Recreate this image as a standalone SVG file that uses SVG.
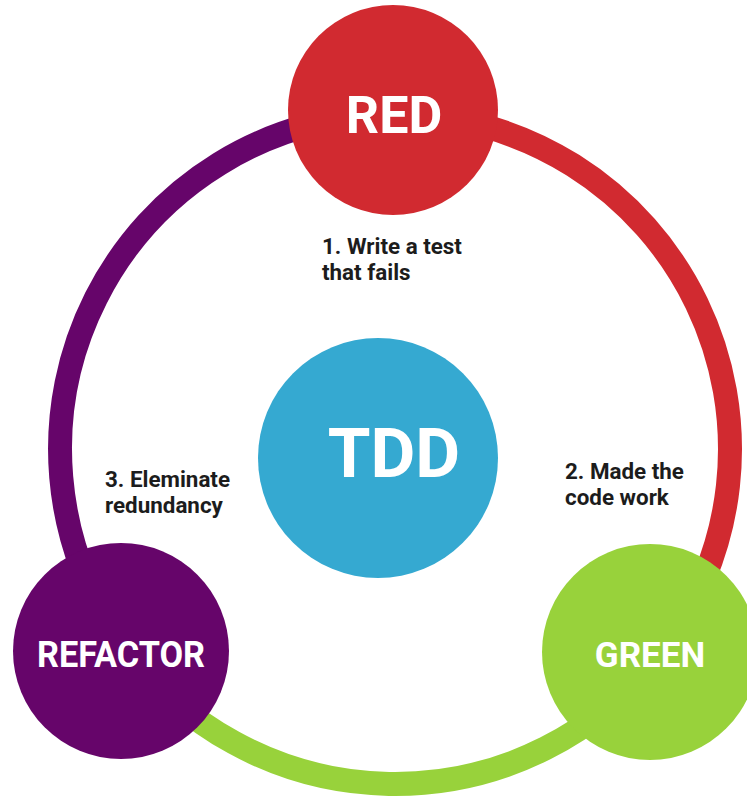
<svg xmlns="http://www.w3.org/2000/svg" width="747" height="799" viewBox="0 0 747 799">
  <style>
    .arc { fill: none; stroke-width: 24; }
    .title { font-family: Roboto, "Liberation Sans", sans-serif; font-weight: 700; fill: #ffffff; text-anchor: middle; }
    .step { font-family: Roboto, "Liberation Sans", sans-serif; font-weight: 700; font-size: 22.4px; fill: #1c1c1c; }
  </style>
  <rect width="747" height="799" fill="#ffffff"/>

  <!-- cycle ring, one arc per phase -->
  <g id="connectors">
    <path class="arc" stroke="#d12a30" d="M 395 114 A 335 335 0 0 1 657.2 657.5"/>
    <path class="arc" stroke="#98d23b" d="M 657.2 657.5 A 335 335 0 0 1 125.4 647.8"/>
    <path class="arc" stroke="#66056a" d="M 125.4 647.8 A 335 335 0 0 1 395 114"/>
  </g>

  <g id="tdd">
    <circle cx="378" cy="458" r="120" fill="#35a9d1"/>
    <text class="title" x="394" y="477" font-size="69">TDD</text>
  </g>

  <g id="red">
    <circle cx="393" cy="110" r="105" fill="#d12a30"/>
    <text class="title" x="394" y="133" font-size="52">RED</text>
  </g>

  <g id="green">
    <circle cx="650" cy="652" r="108" fill="#98d23b"/>
    <text class="title" x="650" y="667" font-size="35">GREEN</text>
  </g>

  <g id="refactor">
    <circle cx="121" cy="651" r="108" fill="#66056a"/>
    <text class="title" x="121" y="667" font-size="37" textLength="168" lengthAdjust="spacingAndGlyphs">REFACTOR</text>
  </g>

  <g id="step-1">
    <text class="step" x="322" y="254">1. Write a test</text>
    <text class="step" x="322" y="280">that fails</text>
  </g>

  <g id="step-2">
    <text class="step" x="565" y="479">2. Made the</text>
    <text class="step" x="565" y="505">code work</text>
  </g>

  <g id="step-3">
    <text class="step" x="105" y="487">3. Eleminate</text>
    <text class="step" x="105" y="513">redundancy</text>
  </g>
</svg>
